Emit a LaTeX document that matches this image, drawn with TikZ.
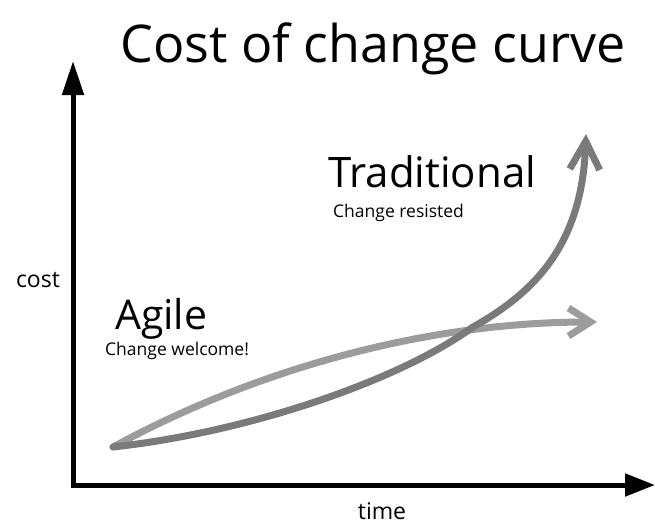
\documentclass[tikz,border=0pt]{standalone}
\usepackage{fontspec}
\setmainfont{Open Sans}
\usetikzlibrary{arrows.meta}
\definecolor{agilegray}{HTML}{9C9C9C}
\definecolor{tradgray}{HTML}{7A7A7A}
\tikzstyle{every node}=[inner sep=0pt, anchor=base west]
\tikzstyle{axis}=[line width=5pt, line join=miter, {Triangle[length=34pt,width=21pt]}-{Triangle[length=30pt,width=22pt]}]
\tikzstyle{curve}=[line width=7pt, line cap=round, line join=round]
\tikzstyle{agile}=[curve, agilegray, -{Straight Barb[length=22pt,width=28pt]}]
\tikzstyle{trad}=[curve, tradgray, -{Straight Barb[length=28pt,width=30pt]}]
\newcommand{\bigtext}{\fontsize{41}{48}\selectfont}
\newcommand{\smalltext}{\fontsize{17.5}{20}\selectfont}
\newcommand{\axistext}{\fontsize{23}{26}\selectfont}

\begin{document}
\begin{tikzpicture}[x=1pt,y=-1pt]
  \useasboundingbox (0,0) rectangle (655,527);
  % title
  \node[anchor=base] (title) at (373,63) {\fontsize{52}{60}\selectfont Cost of change curve};
  % axes
  \coordinate (origin) at (73,485);
  \coordinate (ytip) at (73,61);
  \coordinate (xtip) at (655,485);
  \draw[axis] (ytip) -- (origin) -- (xtip);
  \node[anchor=base] (cost) at (38,287) {\axistext cost};
  \node[anchor=base] (time) at (382,519) {\axistext time};
  % curves
  \coordinate (start) at (113,447);
  \coordinate (cross) at (473,327);
  \coordinate (agiletip) at (597,322);
  \coordinate (tradtip) at (586,134);
  \draw[agile] (start) .. controls (260,367) and (430,322) .. (agiletip);
  \draw[trad] (start) .. controls (250,432) and (400,380) .. (cross)
    .. controls (535,292) and (582,245) .. (tradtip);
  % labels
  \node (trad) at (328,187) {\fontsize{42}{48}\selectfont Traditional};
  \node (resisted) at (333,217) {\smalltext Change resisted};
  \node (agile) at (115,329) {\bigtext Agile};
  \node (welcome) at (105,355) {\smalltext Change welcome!};
\end{tikzpicture}
\end{document}
